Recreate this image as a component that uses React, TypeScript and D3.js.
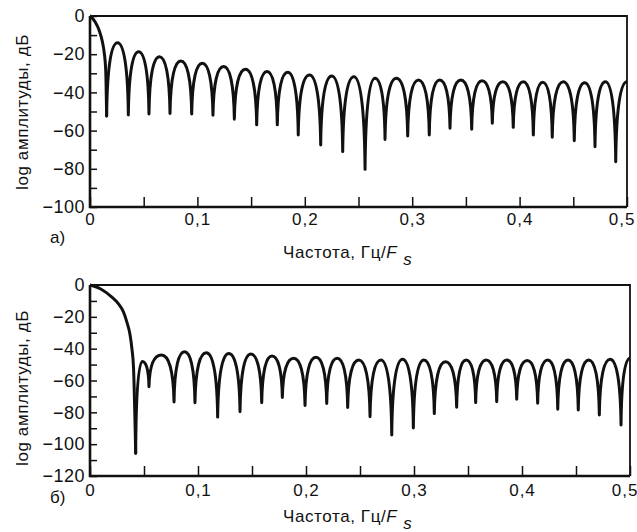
import { useEffect, useRef } from 'react'
import * as d3 from 'd3'

// Panel а: main lobe samples, nulls and sidelobe peaks (frequency in Гц/Fs, level in dB)
const mainLobeA: [number, number][] = [
  [0, 0], [0.0047, -3], [0.0084, -7.3], [0.0115, -13.4], [0.0133, -19.5], [0.0146, -28], [0.0155, -52.4],
]
const nullFreqA = [
  0.0155, 0.0357, 0.0549, 0.0745, 0.0947, 0.1145, 0.1344, 0.1552, 0.1744, 0.1939, 0.2148, 0.2353, 0.2561,
  0.2747, 0.2958, 0.3159, 0.3352, 0.3554, 0.3746, 0.3941, 0.4128, 0.4304, 0.4509, 0.4702, 0.4895,
]
const nullDbA = [
  -52.4, -51.8, -51.3, -51, -51.3, -52, -54, -57, -57, -62.3, -67.5, -71, -80.3,
  -64.6, -62.8, -62.3, -58.8, -59.3, -56.2, -58.3, -62.3, -63.5, -65.3, -68.4, -76.3,
]
const peakDbA = [
  -14, -18.7, -21.3, -23.6, -24.8, -26.5, -27.9, -29.1, -29.5, -30.9, -31.4, -31.8,
  -32.6, -32.6, -33.5, -33.5, -33.5, -33.9, -34.4, -34.4, -34.7, -34.4, -34.9, -34.4,
]
const edgeDbA = -34.4

// Panel б
const mainLobeB: [number, number][] = [
  [0, 0], [0.01, -2.5], [0.02, -7.5], [0.026, -11.5], [0.031, -17], [0.034, -23],
  [0.037, -31], [0.0388, -40], [0.0403, -52], [0.0423, -105.7],
]
const nullFreqB = [
  0.0423, 0.0546, 0.0778, 0.0972, 0.1182, 0.1389, 0.159, 0.1781, 0.1991, 0.2192, 0.2386, 0.2593,
  0.2794, 0.2994, 0.3188, 0.3395, 0.3571, 0.3766, 0.3951, 0.4145, 0.4331, 0.4521, 0.4716, 0.4917,
]
const nullDbB = [
  -105.7, -63.9, -73.5, -74, -83, -79.6, -74, -70.7, -75.7, -74.5, -77, -82.7,
  -94.2, -89.8, -80.8, -76.8, -73.9, -73.3, -71.8, -74.3, -78, -78.5, -81.7, -88,
]
const peakDbB = [
  -48, -44, -41.9, -42.5, -43, -43.4, -44.6, -46, -45.4, -46, -47.1, -47.1,
  -46.7, -47.1, -48.2, -47.1, -47.1, -47.1, -47.5, -47.1, -47.1, -47.1, -46.7,
]
const edgeDbB = -46

const xTicks = d3.range(11).map(i => i * 0.05)

const FONT = '"Liberation Sans", Arial, Helvetica, sans-serif'
const INK = '#111'

const panels = [
  {
    id: 'a', letter: 'а)', main: mainLobeA, nullF: nullFreqA, nullDb: nullDbA, peakDb: peakDbA, edgeDb: edgeDbA,
    yMin: -100, top: 16, bottom: 207, left: 90, right: 627, xPad: 6, letterY: 243, titleY: 258, yTitleY: 112,
  },
  {
    id: 'b', letter: 'б)', main: mainLobeB, nullF: nullFreqB, nullDb: nullDbB, peakDb: peakDbB, edgeDb: edgeDbB,
    yMin: -120, top: 285, bottom: 476, left: 90, right: 630, xPad: 8, letterY: 503, titleY: 522, yTitleY: 388,
  },
]

export default function App() {
  const ref = useRef<SVGSVGElement>(null)

  useEffect(() => {
    const svg = d3.select(ref.current)
    svg.selectAll('*').remove()

    panels.forEach(p => {
      const x = d3.scaleLinear().domain([0, 0.5]).range([p.left, p.right])
      const y = d3.scaleLinear().domain([p.yMin, 0]).range([p.bottom, p.top])
      const g = svg.append('g')

      svg.append('clipPath').attr('id', 'clip-' + p.id)
        .append('rect')
        .attr('x', x(0)).attr('y', y(0) - 2)
        .attr('width', x(0.5) - x(0)).attr('height', y(p.yMin) - y(0) + 2)

      // frame: top and right thinner, left and bottom heavy
      g.append('path')
        .attr('d', `M${x(0)},${y(0)}H${x(0.5)}V${y(p.yMin)}`)
        .attr('fill', 'none').attr('stroke', INK).attr('stroke-width', 1.8)
      g.append('path')
        .attr('d', `M${x(0)},${y(0)}V${y(p.yMin)}H${x(0.5)}`)
        .attr('fill', 'none').attr('stroke', INK).attr('stroke-width', 2.6)

      // y axis, ticks inward every 10 dB, labels every 20
      const ya = g.append('g').attr('transform', `translate(${x(0)},0)`)
        .call(d3.axisLeft(y).tickValues(d3.range(p.yMin, 1, 10)).tickSize(-7).tickPadding(5)
          .tickFormat(d => (+d % 20 === 0 ? d3.format('d')(+d) : '')))
      ya.select('.domain').remove()
      ya.selectAll('line').attr('stroke', INK).attr('stroke-width', 1.5)
      ya.selectAll('text').attr('fill', INK).attr('font-size', 18).attr('font-family', FONT)
        .attr('letter-spacing', 0.5)

      // x axis, ticks inward every 0.05, labels every 0.1
      const xa = g.append('g').attr('transform', `translate(0,${y(p.yMin)})`)
        .call(d3.axisBottom(x).tickValues(xTicks).tickSize(-10).tickPadding(p.xPad)
          .tickFormat(d => {
            const v = +d
            if (Math.round(v * 20) % 2 !== 0) return ''
            return v === 0 ? '0' : v.toFixed(1).replace('.', ',')
          }))
      xa.select('.domain').remove()
      xa.selectAll('line').attr('stroke', INK).attr('stroke-width', 1.5)
      xa.selectAll('text').attr('fill', INK).attr('font-size', 17).attr('font-family', FONT)
        .attr('letter-spacing', 1)
      // keep the last label inside the page
      xa.selectAll<SVGTextElement, number>('text')
        .filter(d => d > 0.49)
        .attr('text-anchor', 'end').attr('dx', 8)

      // spectrum: main lobe
      const line = d3.line<[number, number]>().x(d => x(d[0])).y(d => y(d[1])).curve(d3.curveMonotoneX)
      const curves = g.append('g').attr('clip-path', `url(#clip-${p.id})`)
      curves.append('path').attr('d', line(p.main))
        .attr('fill', 'none').attr('stroke', INK).attr('stroke-width', 3)
        .attr('stroke-linejoin', 'round').attr('stroke-linecap', 'round')

      // sidelobes: arches between nulls, steep at nulls, flat at peaks
      const path = d3.path()
      path.moveTo(x(p.nullF[0]), y(p.nullDb[0]))
      p.peakDb.forEach((pk, i) => {
        const x0 = x(p.nullF[i]), y0 = y(p.nullDb[i])
        const x1 = x(p.nullF[i + 1]), y1 = y(p.nullDb[i + 1])
        const xm = (x0 + x1) / 2, ym = y(pk), hw = (x1 - x0) / 2
        path.bezierCurveTo(x0 + 0.05 * hw, y0 + 0.7 * (ym - y0), xm - 0.55 * hw, ym, xm, ym)
        path.bezierCurveTo(xm + 0.55 * hw, ym, x1 - 0.05 * hw, y1 + 0.7 * (ym - y1), x1, y1)
      })
      const last = p.nullF.length - 1
      const x0 = x(p.nullF[last]), y0 = y(p.nullDb[last])
      const xe = x(0.5), ye = y(p.edgeDb), hw = xe - x0
      path.bezierCurveTo(x0 + 0.05 * hw, y0 + 0.7 * (ye - y0), xe - 0.55 * hw, ye, xe, ye)

      curves.append('path').attr('d', path.toString())
        .attr('fill', 'none').attr('stroke', INK).attr('stroke-width', 3)
        .attr('stroke-linejoin', 'round').attr('stroke-linecap', 'round')

      // labels
      g.append('text').attr('x', 50).attr('y', p.letterY)
        .attr('font-size', 17).attr('font-family', FONT).attr('fill', INK).text(p.letter)

      g.append('text')
        .attr('transform', `translate(22,${p.yTitleY}) rotate(-90)`)
        .attr('text-anchor', 'middle').attr('dy', '0.35em')
        .attr('font-size', 17).attr('letter-spacing', 0.6).attr('font-family', FONT).attr('fill', INK)
        .text('log амплитуды, дБ')

      const t = g.append('text').attr('x', 283).attr('y', p.titleY)
        .attr('font-size', 17).attr('letter-spacing', 0.6).attr('font-family', FONT).attr('fill', INK)
      t.append('tspan').text('Частота, Гц/')
      t.append('tspan').attr('font-style', 'italic').text('F')
      t.append('tspan').attr('font-style', 'italic').attr('dx', 6).attr('dy', 7).text('s')
    })
  }, [])

  return (
    <svg ref={ref} width={637} height={532}
      style={{ position: 'absolute', left: 0, top: 0, background: '#fff' }} />
  )
}
